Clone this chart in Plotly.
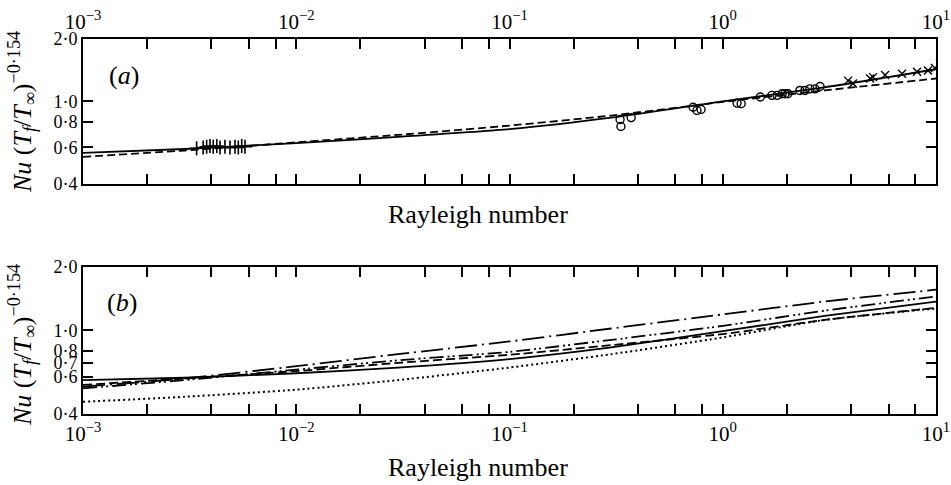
import plotly.graph_objects as go

# Rayleigh numbers at which the correlation curves are tabulated
RA = [1e-3, 3e-3, 1e-2, 3e-2, 1e-1, 3e-1, 1.0, 3.0, 10.0]

# (a) correlations compared with experiment
a_solid = [0.565, 0.59, 0.63, 0.675, 0.735, 0.835, 1.00, 1.17, 1.43]
a_dashed = [0.54, 0.58, 0.635, 0.69, 0.765, 0.855, 0.995, 1.13, 1.29]

# (a) measurements
plus_ra = [3.41e-3, 3.66e-3, 3.80e-3, 3.94e-3, 4.08e-3, 4.24e-3, 4.39e-3,
           4.63e-3, 4.89e-3, 5.16e-3, 5.35e-3, 5.55e-3, 5.75e-3]
plus_nu = [0.595, 0.60, 0.605, 0.61, 0.605, 0.61, 0.60,
           0.605, 0.60, 0.605, 0.60, 0.61, 0.605]
circle_ra = [0.330, 0.333, 0.372, 0.726, 0.757, 0.791, 1.167, 1.22, 1.50, 1.70,
             1.80, 1.90, 1.96, 2.02, 2.30, 2.43, 2.56, 2.71, 2.86]
circle_nu = [0.818, 0.757, 0.836, 0.938, 0.904, 0.914, 0.982, 0.976, 1.05, 1.07,
             1.07, 1.09, 1.09, 1.09, 1.13, 1.13, 1.15, 1.15, 1.18]
cross_ra = [3.87, 4.08, 4.91, 5.07, 5.77, 6.93, 8.15, 9.17, 9.89]
cross_nu = [1.26, 1.22, 1.29, 1.31, 1.34, 1.36, 1.39, 1.41, 1.45]

# (b) several correlations from the literature
b_solid = [0.58, 0.595, 0.625, 0.665, 0.73, 0.83, 0.99, 1.17, 1.37]
b_dashed = [0.55, 0.59, 0.64, 0.70, 0.765, 0.85, 0.96, 1.12, 1.28]
b_dashdot = [0.54, 0.59, 0.675, 0.77, 0.885, 1.02, 1.19, 1.37, 1.56]
b_dashdotdot = [0.53, 0.58, 0.65, 0.72, 0.79, 0.90, 1.05, 1.24, 1.45]
b_dotted = [0.457, 0.483, 0.522, 0.58, 0.665, 0.77, 0.925, 1.12, 1.27]

# axis ticks
x_decades = [1e-3, 1e-2, 1e-1, 1.0, 10.0]
x_decade_text = ["10<sup>\u22123</sup>", "10<sup>\u22122</sup>", "10<sup>\u22121</sup>",
                 "10<sup>0</sup>", "10<sup>1</sup>"]
x_mult = [1, 2, 4, 6, 8]
y_ticks_a = [0.4, 0.6, 0.8, 1.0, 2.0]
y_ticks_b = [0.4, 0.6, 0.7, 0.8, 1.0, 2.0]

SERIF = "Liberation Serif"
W, H = 951, 485

x_tickvals, x_ticktext = [], []
for d, label in zip(x_decades, x_decade_text):
    for m in x_mult:
        v = d * m
        if v > 10.0 + 1e-9:
            continue
        x_tickvals.append(v)
        x_ticktext.append(label if m == 1 else "")


def ytext(vals):
    return [f"{v:.1f}".replace(".", "\u00b7") for v in vals]


def curve(y, dash, xa, ya, width=1.8):
    return go.Scatter(
        x=RA, y=y, mode="lines", xaxis=xa, yaxis=ya,
        line=dict(color="black", width=width, dash=dash, shape="spline", smoothing=0.6),
        hoverinfo="skip", showlegend=False,
    )


def points(x, y, symbol, size, xa, ya, lw=1.3):
    return go.Scatter(
        x=x, y=y, mode="markers", xaxis=xa, yaxis=ya,
        marker=dict(symbol=symbol, size=size, color="black",
                    line=dict(color="black", width=lw)),
        hoverinfo="skip", showlegend=False,
    )


fig = go.Figure()

# panel (a)
fig.add_trace(curve(a_solid, "solid", "x", "y"))
fig.add_trace(curve(a_dashed, "8px,4px", "x", "y"))
fig.add_trace(points(plus_ra, plus_nu, "cross-thin", 10, "x", "y", 1.6))
fig.add_trace(points(circle_ra, circle_nu, "circle-open", 8, "x", "y", 1.4))
fig.add_trace(points(cross_ra, cross_nu, "x-thin", 8, "x", "y", 1.4))

# panel (b)
fig.add_trace(curve(b_solid, "solid", "x2", "y2"))
fig.add_trace(curve(b_dashed, "9px,4px", "x2", "y2"))
fig.add_trace(curve(b_dashdot, "22px,5px,2px,5px", "x2", "y2"))
fig.add_trace(curve(b_dashdotdot, "14px,4px,2px,3px,2px,4px", "x2", "y2"))
fig.add_trace(curve(b_dotted, "2px,3px", "x2", "y2", width=2))

x_dom = [83 / W, 936 / W]
ya_dom = [1 - 184 / H, 1 - 39 / H]
yb_dom = [1 - 414 / H, 1 - 267 / H]

common_x = dict(
    type="log", range=[-3, 1], domain=x_dom, automargin=False,
    tickvals=x_tickvals, ticktext=x_ticktext,
    ticks="inside", ticklen=10, tickwidth=1.6, tickcolor="black",
    showline=True, linewidth=2, linecolor="black", mirror="ticks",
    showgrid=False, zeroline=False,
    tickfont=dict(family=SERIF, size=21, color="black"),
)
common_y = dict(
    type="log", range=[-0.39794, 0.30103], automargin=False,
    ticks="inside", ticklen=10, tickwidth=1.6, tickcolor="black",
    showline=True, linewidth=2, linecolor="black", mirror="ticks",
    showgrid=False, zeroline=False,
    tickfont=dict(family=SERIF, size=18, color="black"),
)

fig.update_layout(
    template="none",
    width=W, height=H,
    margin=dict(l=0, r=0, t=0, b=0),
    paper_bgcolor="white", plot_bgcolor="white",
    showlegend=False,
    font=dict(family=SERIF, color="black"),
    xaxis=dict(common_x, anchor="y", side="top"),
    yaxis=dict(common_y, anchor="x", domain=ya_dom,
               tickvals=y_ticks_a, ticktext=ytext(y_ticks_a)),
    xaxis2=dict(common_x, anchor="y2", side="bottom"),
    yaxis2=dict(common_y, anchor="x2", domain=yb_dom,
                tickvals=y_ticks_b, ticktext=ytext(y_ticks_b)),
)

ytitle = ("<i>Nu</i> (<i>T</i><sub><i>f</i></sub>/<i>T</i><sub>\u221e</sub>)"
          "<sup>\u22120\u00b7154</sup>")
text_font = dict(family=SERIF, size=26, color="black")

annotations = [
    dict(text="Rayleigh number", x=478 / W, y=1 - 214 / H),
    dict(text="Rayleigh number", x=478 / W, y=1 - 467 / H),
    dict(text="(<i>a</i>)", x=124 / W, y=1 - 75 / H),
    dict(text="(<i>b</i>)", x=122 / W, y=1 - 302 / H),
]
for a in annotations:
    fig.add_annotation(xref="paper", yref="paper", showarrow=False,
                       xanchor="center", yanchor="middle", font=text_font, **a)

for yc in (112, 345):
    fig.add_annotation(xref="paper", yref="paper", showarrow=False,
                       x=22 / W, y=1 - yc / H, text=ytitle, textangle=-90,
                       xanchor="center", yanchor="middle",
                       font=dict(family=SERIF, size=26, color="black"))

fig.write_html("out.html")
